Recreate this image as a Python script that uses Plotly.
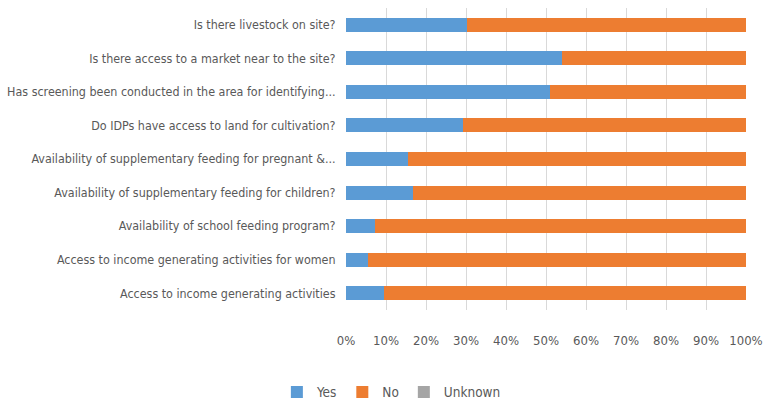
import plotly.graph_objects as go

# Survey questions, listed top to bottom
questions = [
    "Is there livestock on site?",
    "Is there access to a market near to the site?",
    "Has screening been conducted in the area for identifying...",
    "Do IDPs have access to land for cultivation?",
    "Availability of supplementary feeding for pregnant &...",
    "Availability of supplementary feeding for children?",
    "Availability of school feeding program?",
    "Access to income generating activities for women",
    "Access to income generating activities",
]

# Share of responses (%)
yes_pct = [30.2, 53.9, 51.0, 29.2, 15.5, 16.7, 7.2, 5.5, 9.6]
no_pct = [69.8, 46.1, 49.0, 70.8, 84.5, 83.3, 92.8, 94.5, 90.4]
unknown_pct = [0, 0, 0, 0, 0, 0, 0, 0, 0]

x_ticks = [0, 10, 20, 30, 40, 50, 60, 70, 80, 90, 100]
x_tick_labels = [f"{v}%" for v in x_ticks]

FONT = "DejaVu Sans Condensed, sans-serif"
TEXT = "#595959"

fig = go.Figure()
for name, vals, color in [
    ("Yes", yes_pct, "#5B9BD5"),
    ("No", no_pct, "#ED7D31"),
    ("Unknown", unknown_pct, "#A5A5A5"),
]:
    fig.add_trace(go.Bar(
        y=questions, x=vals, name=name, orientation="h",
        marker=dict(color=color, line=dict(width=0)),
        hovertemplate="%{y}: %{x}%<extra>" + name + "</extra>",
    ))

fig.update_layout(
    template="none",
    barmode="stack",
    bargap=0.58,
    width=775, height=401,
    margin=dict(l=346, r=29, t=8, b=91),
    paper_bgcolor="white", plot_bgcolor="white",
    font=dict(family=FONT, size=13, color=TEXT),
    legend=dict(
        orientation="h", xref="container", x=0.505, xanchor="center",
        yref="container", y=0.022, yanchor="middle",
        font=dict(size=13.5, color=TEXT), traceorder="normal",
        itemwidth=30,
    ),
    showlegend=True,
)
fig.update_xaxes(
    range=[0, 100], tickvals=x_ticks, ticktext=x_tick_labels,
    showgrid=True, gridcolor="#D9D9D9", gridwidth=1,
    zeroline=False, showline=False,
    ticks="outside", ticklen=18, tickcolor="rgba(0,0,0,0)",
    tickfont=dict(size=13, color=TEXT),
)
fig.update_yaxes(
    autorange="reversed", showgrid=False, zeroline=False,
    showline=False,
    ticks="outside", ticklen=7, tickcolor="rgba(0,0,0,0)",
    tickfont=dict(size=12.4, color=TEXT),
)

fig.write_html("out.html")
